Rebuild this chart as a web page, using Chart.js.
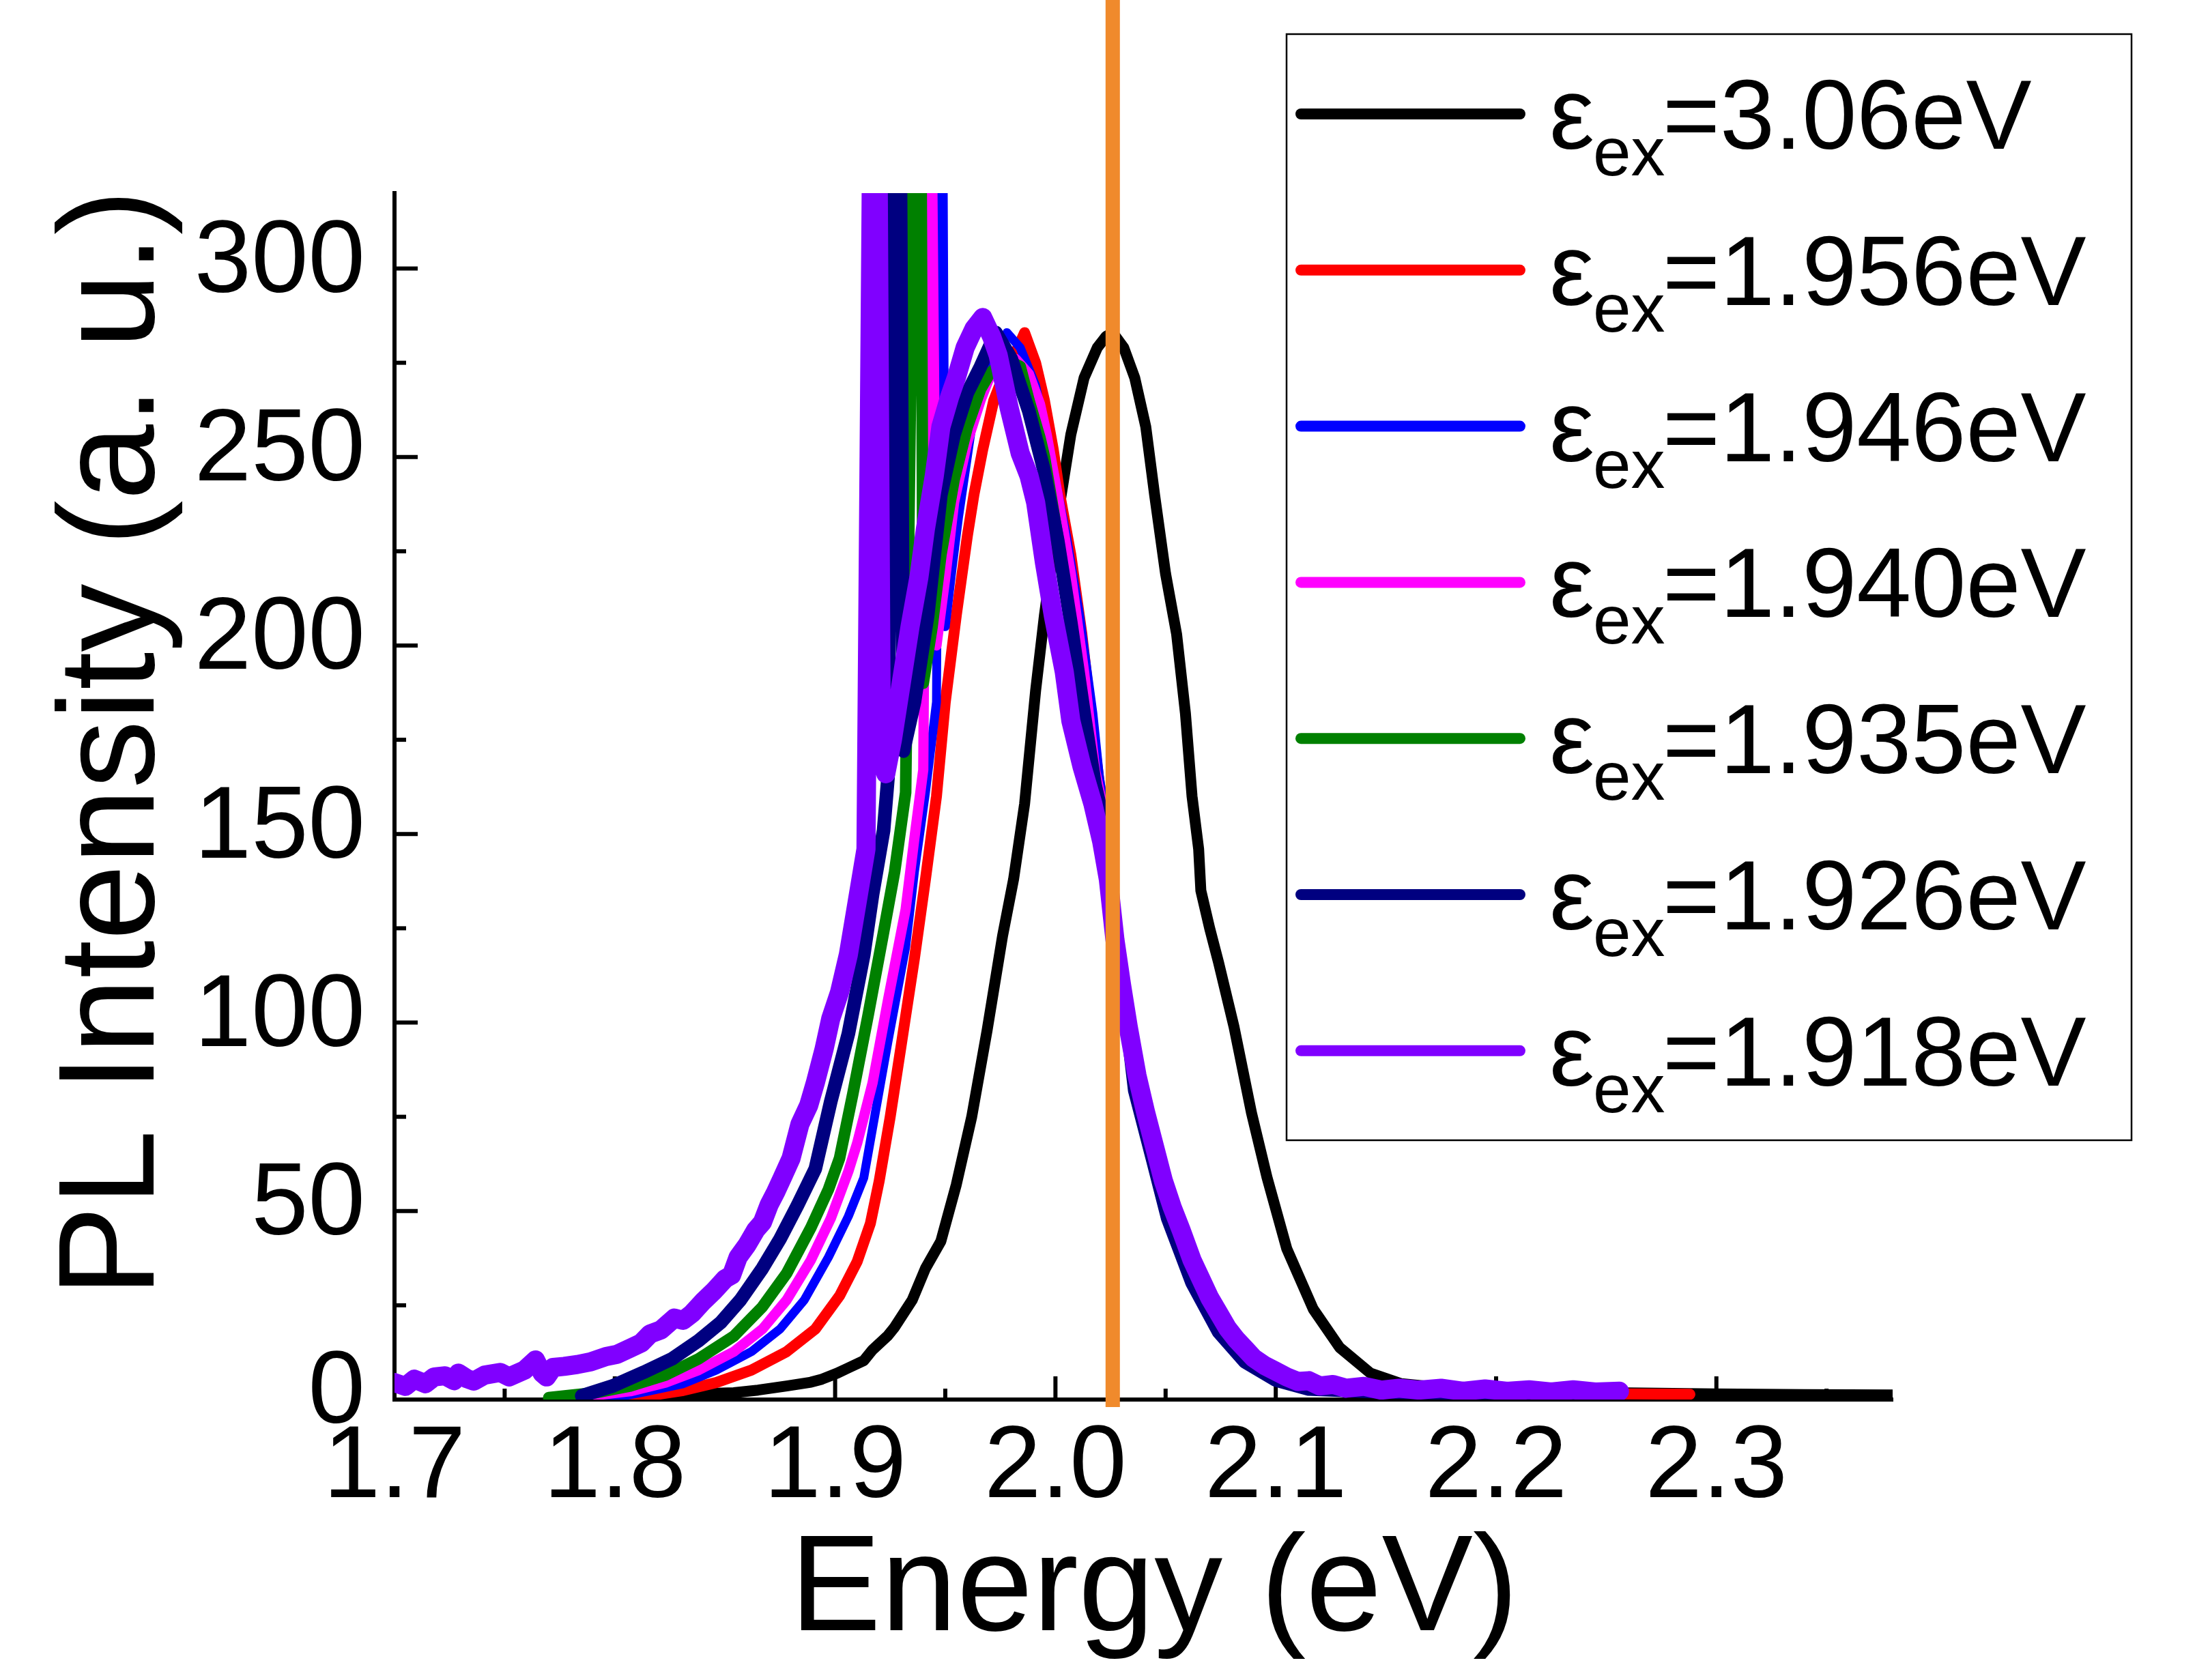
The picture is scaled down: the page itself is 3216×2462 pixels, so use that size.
<!DOCTYPE html>
<html lang="en">
<head>
<meta charset="UTF-8">
<title>PL Intensity vs Energy</title>
<script src="https://cdn.jsdelivr.net/npm/chart.js"></script>
<style>
  html, body { margin: 0; padding: 0; background: #fff; }
  #plChart { display: block; }
</style>
</head>
<body>
<canvas id="plChart" width="3216" height="2462" style="width:3216px;height:2462px"></canvas>
<script>
// axis ticks
const xTicks = [1.7, 1.8, 1.9, 2.0, 2.1, 2.2, 2.3];
const xMinorTicks = [1.75, 1.85, 1.95, 2.05, 2.15, 2.25, 2.35];
const yTicks = [0, 50, 100, 150, 200, 250, 300];
const yMinorTicks = [25, 75, 125, 175, 225, 275];

// excitation energies (legend) and series colours
const excitation = ['3.06', '1.956', '1.946', '1.940', '1.935', '1.926', '1.918'];
const colors = ['#000000', '#ff0000', '#0000ff', '#ff00ff', '#008000', '#000080', '#8000ff'];
const lineWidths = [16, 16, 13, 15, 17, 20, 28];

// reference line position (eV)
const markerEnergy = 2.026;

// eps_ex = 3.06 eV
const e306 = [1.80, 1.823, 1.841, 1.854, 1.865, 1.878, 1.889, 1.894, 1.901, 1.906, 1.913, 1.917, 1.924, 1.927, 1.935, 1.941, 1.948, 1.955, 1.962, 1.969, 1.976, 1.981, 1.986, 1.991, 1.995, 2.001, 2.007, 2.013, 2.019, 2.023, 2.026, 2.031, 2.036, 2.041, 2.045, 2.050, 2.055, 2.059, 2.062, 2.065, 2.066, 2.070, 2.074, 2.081, 2.089, 2.096, 2.105, 2.117, 2.129, 2.143, 2.157, 2.181, 2.22, 2.254, 2.30, 2.34, 2.38];
const i306 = [0.2, 0.6, 1.6, 1.8, 2.5, 3.6, 4.6, 5.4, 7, 8.4, 10.3, 13.2, 17, 19.2, 26.4, 34.8, 42, 57, 75, 98, 123, 138, 158, 188, 208, 234, 256, 271, 279, 282, 283, 279, 271, 258, 240, 219, 203, 182, 160, 146, 135, 125, 116, 99, 76, 59, 40, 24, 13.8, 7, 4.2, 2.8, 2.2, 1.8, 1.5, 1.3, 1.2];

// eps_ex = 1.956 eV
const e1956 = [1.79, 1.81, 1.831, 1.846, 1.862, 1.878, 1.891, 1.902, 1.910, 1.916, 1.920, 1.925, 1.930, 1.936, 1.941, 1.946, 1.950, 1.955, 1.960, 1.963, 1.967, 1.972, 1.978, 1.983, 1.986, 1.991, 1.995, 1.999, 2.002, 2.007, 2.012, 2.017, 2.020, 2.024, 2.027, 2.032, 2.036, 2.044, 2.051, 2.062, 2.074, 2.086, 2.100, 2.115, 2.14, 2.18, 2.22, 2.26, 2.288];
const i1956 = [0, 0.5, 2.4, 4.5, 7.8, 12.7, 18.7, 27.5, 36.6, 46.7, 58, 75, 94, 117, 138, 160, 185, 208, 229, 240, 252, 265, 274, 279, 283, 275, 265, 252, 240, 224, 203, 177, 163, 152, 128, 106, 86, 68, 52, 34, 20, 12, 6, 3.2, 2.2, 1.8, 1.6, 1.5, 1.4];

// eps_ex = 1.946 eV
const e1946 = [1.795, 1.80, 1.815, 1.831, 1.846, 1.862, 1.875, 1.886, 1.897, 1.906, 1.913, 1.917, 1.924, 1.932, 1.936, 1.941, 1.946, 1.9475, 1.9490, 1.950, 1.953, 1.956, 1.962, 1.967, 1.972, 1.978, 1.984, 1.991, 1.998, 2.005, 2.011, 2.017, 2.020, 2.024, 2.027, 2.032, 2.036, 2.044, 2.051, 2.062, 2.074, 2.086, 2.100, 2.115, 2.15, 2.20, 2.25];
const i1946 = [0, 0.5, 2.2, 4.2, 7.8, 12.7, 18.7, 26.4, 37.8, 48.6, 58.8, 72, 95, 120, 140, 161, 185, 330, 330, 205, 220, 234, 258, 268, 275, 283, 279, 269, 250, 229, 208, 182, 165, 150, 127, 104, 84, 66, 50, 33, 19, 11, 5.8, 3, 2, 1.6, 1.5];

// eps_ex = 1.940 eV
const e1940 = [1.785, 1.807, 1.823, 1.838, 1.854, 1.867, 1.878, 1.889, 1.898, 1.906, 1.910, 1.917, 1.924, 1.932, 1.936, 1.940, 1.942, 1.944, 1.946, 1.950, 1.954, 1.960, 1.966, 1.970, 1.976, 1.982, 1.988, 1.993, 1.996, 2.001, 2.007, 2.013, 2.018, 2.024, 2.027, 2.032, 2.036, 2.044, 2.051, 2.062, 2.074, 2.086, 2.100, 2.115, 2.15, 2.20, 2.25];
const i1940 = [0.7, 2.2, 4.5, 7.8, 12.7, 18.7, 26.4, 37, 48, 60.5, 68, 84, 106, 130, 149, 167, 330, 330, 200, 218, 238, 254, 265, 271, 276, 276, 272, 264, 256, 240, 219, 193, 167, 150, 127, 104, 84, 66, 50, 33, 19, 11, 5.8, 3, 2, 1.6, 1.5];

// eps_ex = 1.935 eV
const e1935 = [1.770, 1.791, 1.807, 1.823, 1.838, 1.854, 1.867, 1.878, 1.889, 1.897, 1.902, 1.908, 1.915, 1.922, 1.927, 1.932, 1.9355, 1.9390, 1.940, 1.944, 1.948, 1.954, 1.960, 1.966, 1.970, 1.977, 1.984, 1.988, 1.993, 1.995, 2.001, 2.007, 2.013, 2.018, 2.024, 2.027, 2.032, 2.036, 2.044, 2.051, 2.062, 2.074, 2.086, 2.100, 2.115, 2.15, 2.20, 2.25];
const i1935 = [0.5, 1.8, 3.6, 6.5, 10.8, 16.8, 24.6, 33.5, 45.6, 55.8, 64, 81, 102, 124, 140, 161, 330, 330, 190, 205, 224, 244, 258, 268, 272, 276, 274, 265, 255, 250, 229, 205, 182, 163, 148, 126, 103, 83, 65, 49, 32, 18.5, 10.5, 5.5, 3, 2, 1.6, 1.5];

// eps_ex = 1.926 eV
const e1926 = [1.785, 1.799, 1.813, 1.826, 1.838, 1.848, 1.857, 1.867, 1.875, 1.883, 1.891, 1.898, 1.906, 1.913, 1.917, 1.922, 1.924, 1.9262, 1.9296, 1.931, 1.936, 1.942, 1.948, 1.954, 1.960, 1.966, 1.973, 1.980, 1.988, 1.995, 2.001, 2.007, 2.013, 2.018, 2.024, 2.027, 2.032, 2.036, 2.044, 2.051, 2.062, 2.074, 2.086, 2.100, 2.115, 2.15, 2.20, 2.25];
const i1926 = [1, 3.6, 7.2, 10.8, 15.6, 20.4, 26.4, 34.8, 42.6, 51.6, 61.2, 79, 97, 118, 134, 151, 165, 330, 330, 172, 185, 208, 240, 256, 267, 274, 283, 276, 262, 246, 228, 206, 182, 163, 148, 125, 102, 82, 64, 48, 31, 18, 10, 5.2, 2.8, 2, 1.6, 1.5];

// eps_ex = 1.918 eV
const e1918 = [1.700, 1.705, 1.709, 1.714, 1.718, 1.723, 1.727, 1.729, 1.733, 1.736, 1.741, 1.748, 1.752, 1.759, 1.764, 1.767, 1.769, 1.772, 1.777, 1.783, 1.789, 1.796, 1.801, 1.807, 1.812, 1.816, 1.821, 1.827, 1.831, 1.835, 1.840, 1.845, 1.850, 1.853, 1.856, 1.860, 1.864, 1.867, 1.870, 1.873, 1.876, 1.880, 1.884, 1.888, 1.891, 1.895, 1.898, 1.902, 1.906, 1.910, 1.914, 1.9165, 1.9195, 1.921, 1.923, 1.926, 1.930, 1.934, 1.938, 1.941, 1.945, 1.948, 1.952, 1.955, 1.959, 1.963, 1.967, 1.971, 1.974, 1.979, 1.984, 1.988, 1.991, 1.995, 1.999, 2.004, 2.007, 2.012, 2.017, 2.021, 2.024, 2.027, 2.030, 2.033, 2.037, 2.041, 2.045, 2.049, 2.053, 2.057, 2.062, 2.066, 2.070, 2.074, 2.078, 2.082, 2.086, 2.090, 2.095, 2.100, 2.105, 2.110, 2.115, 2.120, 2.126, 2.132, 2.140, 2.148, 2.156, 2.165, 2.175, 2.185, 2.195, 2.205, 2.215, 2.225, 2.235, 2.245, 2.256];
const i1918 = [4.5, 3.5, 5.4, 4.2, 6, 6.3, 5, 7, 5.5, 4.9, 6.5, 7.2, 6, 7.8, 10.5, 7, 6, 8.5, 8.8, 9.3, 10, 11.4, 12, 13.6, 15, 17.4, 18.5, 21.6, 21, 22.8, 26, 28.8, 32, 33, 37.8, 41, 45, 47, 51.6, 55, 58.8, 64, 73, 78, 84, 93, 101, 108, 118, 132, 146, 330, 330, 170, 166, 175, 190, 205, 218, 231, 245, 258, 266, 271, 279, 284, 287, 282, 277, 263, 251, 245, 238, 222, 208, 193, 180, 168, 158, 148, 138, 122, 110, 99, 86, 76, 67, 58, 51, 45, 37, 32, 27, 23, 19, 16, 13.5, 11, 9, 7.5, 6, 4.8, 5, 3.6, 4, 3, 3.5, 2.5, 3, 2.5, 3, 2.2, 2.8, 2.2, 2.6, 2, 2.6, 2, 2.2];

const energies = [e306, e1956, e1946, e1940, e1935, e1926, e1918];
const intensities = [i306, i1956, i1946, i1940, i1935, i1926, i1918];

const FONT = '"Liberation Sans", Arial, sans-serif';

const datasets = excitation.map(function(ex, i) {
  return {
    label: 'εex=' + ex + 'eV',
    data: energies[i].map(function(e, k) { return { x: e, y: intensities[i][k] }; }),
    borderColor: colors[i],
    borderWidth: lineWidths[i],
    pointRadius: 0,
    tension: 0,
    fill: false,
    clip: 0,
    borderJoinStyle: 'round',
    borderCapStyle: 'round',
    order: excitation.length - 1 - i
  };
});

// inner ticks, marker line, axis titles and legend box
const decorations = {
  id: 'decorations',
  beforeDatasetsDraw(chart) {
    const { ctx, chartArea: a, scales: { x, y } } = chart;
    ctx.save();
    ctx.strokeStyle = '#000';
    ctx.lineWidth = 6;
    function tick(x1, y1, x2, y2) {
      ctx.beginPath(); ctx.moveTo(x1, y1); ctx.lineTo(x2, y2); ctx.stroke();
    }
    xTicks.forEach(v => { const p = x.getPixelForValue(v); tick(p, a.bottom, p, a.bottom - 34); });
    xMinorTicks.forEach(v => { const p = x.getPixelForValue(v); tick(p, a.bottom, p, a.bottom - 16); });
    yTicks.forEach(v => { const p = y.getPixelForValue(v); tick(a.left, p, a.left + 34, p); });
    yMinorTicks.forEach(v => { const p = y.getPixelForValue(v); tick(a.left, p, a.left + 17, p); });
    ctx.restore();
  },
  afterDatasetsDraw(chart) {
    const { ctx, chartArea: a, scales: { x } } = chart;
    const p = x.getPixelForValue(markerEnergy);
    ctx.save();
    ctx.strokeStyle = '#f08a2c';
    ctx.lineWidth = 21;
    ctx.beginPath(); ctx.moveTo(p, 0); ctx.lineTo(p, a.bottom + 11); ctx.stroke();
    ctx.restore();
  },
  afterDraw(chart) {
    const { ctx } = chart;
    ctx.save();
    ctx.fillStyle = '#000';

    // axis titles
    ctx.font = '200px ' + FONT;
    ctx.textAlign = 'center';
    ctx.textBaseline = 'alphabetic';
    ctx.fillText('Energy (eV)', 1691, 2389);
    ctx.translate(225, 1089);
    ctx.rotate(-Math.PI / 2);
    ctx.fillText('PL Intensity (a. u.)', 0, 0);
    ctx.setTransform(1, 0, 0, 1, 0, 0);

    // legend
    ctx.strokeStyle = '#000';
    ctx.lineWidth = 2.5;
    ctx.strokeRect(1885, 50, 1238, 1621);
    ctx.textAlign = 'left';
    excitation.forEach(function(ex, i) {
      const cy = 167 + i * 228.8;
      ctx.strokeStyle = colors[i];
      ctx.lineWidth = 16;
      ctx.lineCap = 'round';
      ctx.beginPath(); ctx.moveTo(1906, cy); ctx.lineTo(2227, cy); ctx.stroke();
      ctx.font = '148px ' + FONT;
      ctx.fillText('ε', 2270, cy + 51);
      ctx.font = '100px ' + FONT;
      ctx.fillText('ex', 2334, cy + 90);
      ctx.font = '144px ' + FONT;
      ctx.fillText('=' + ex + 'eV', 2436, cy + 51);
    });
    ctx.restore();
  }
};

const ctx = document.getElementById('plChart').getContext('2d');
new Chart(ctx, {
  type: 'line',
  data: { datasets: datasets },
  options: {
    responsive: false,
    devicePixelRatio: 1,
    animation: false,
    layout: { padding: { top: 283, right: 443, left: 0, bottom: 0 } },
    plugins: { legend: { display: false }, tooltip: { enabled: false } },
    scales: {
      x: {
        type: 'linear',
        min: 1.7,
        max: 2.38,
        afterFit: function(s) { s.height = 411; },
        afterBuildTicks: function(s) { s.ticks = xTicks.map(v => ({ value: v })); },
        grid: { display: true, drawOnChartArea: false, drawTicks: false },
        border: { display: true, color: '#000', width: 6 },
        ticks: {
          font: { family: FONT, size: 150 },
          color: '#000',
          padding: 12,
          maxRotation: 0,
          autoSkip: false,
          callback: v => v.toFixed(1)
        }
      },
      y: {
        type: 'linear',
        min: 0,
        max: 320,
        afterFit: function(s) { s.width = 578; },
        afterBuildTicks: function(s) { s.ticks = yTicks.map(v => ({ value: v })); },
        grid: { display: true, drawOnChartArea: false, drawTicks: false },
        border: { display: true, color: '#000', width: 6 },
        ticks: {
          font: { family: FONT, size: 150 },
          color: '#000',
          padding: 43,
          labelOffset: -7,
          autoSkip: false,
          callback: v => String(v)
        }
      }
    }
  },
  plugins: [decorations]
});
</script>
</body>
</html>
